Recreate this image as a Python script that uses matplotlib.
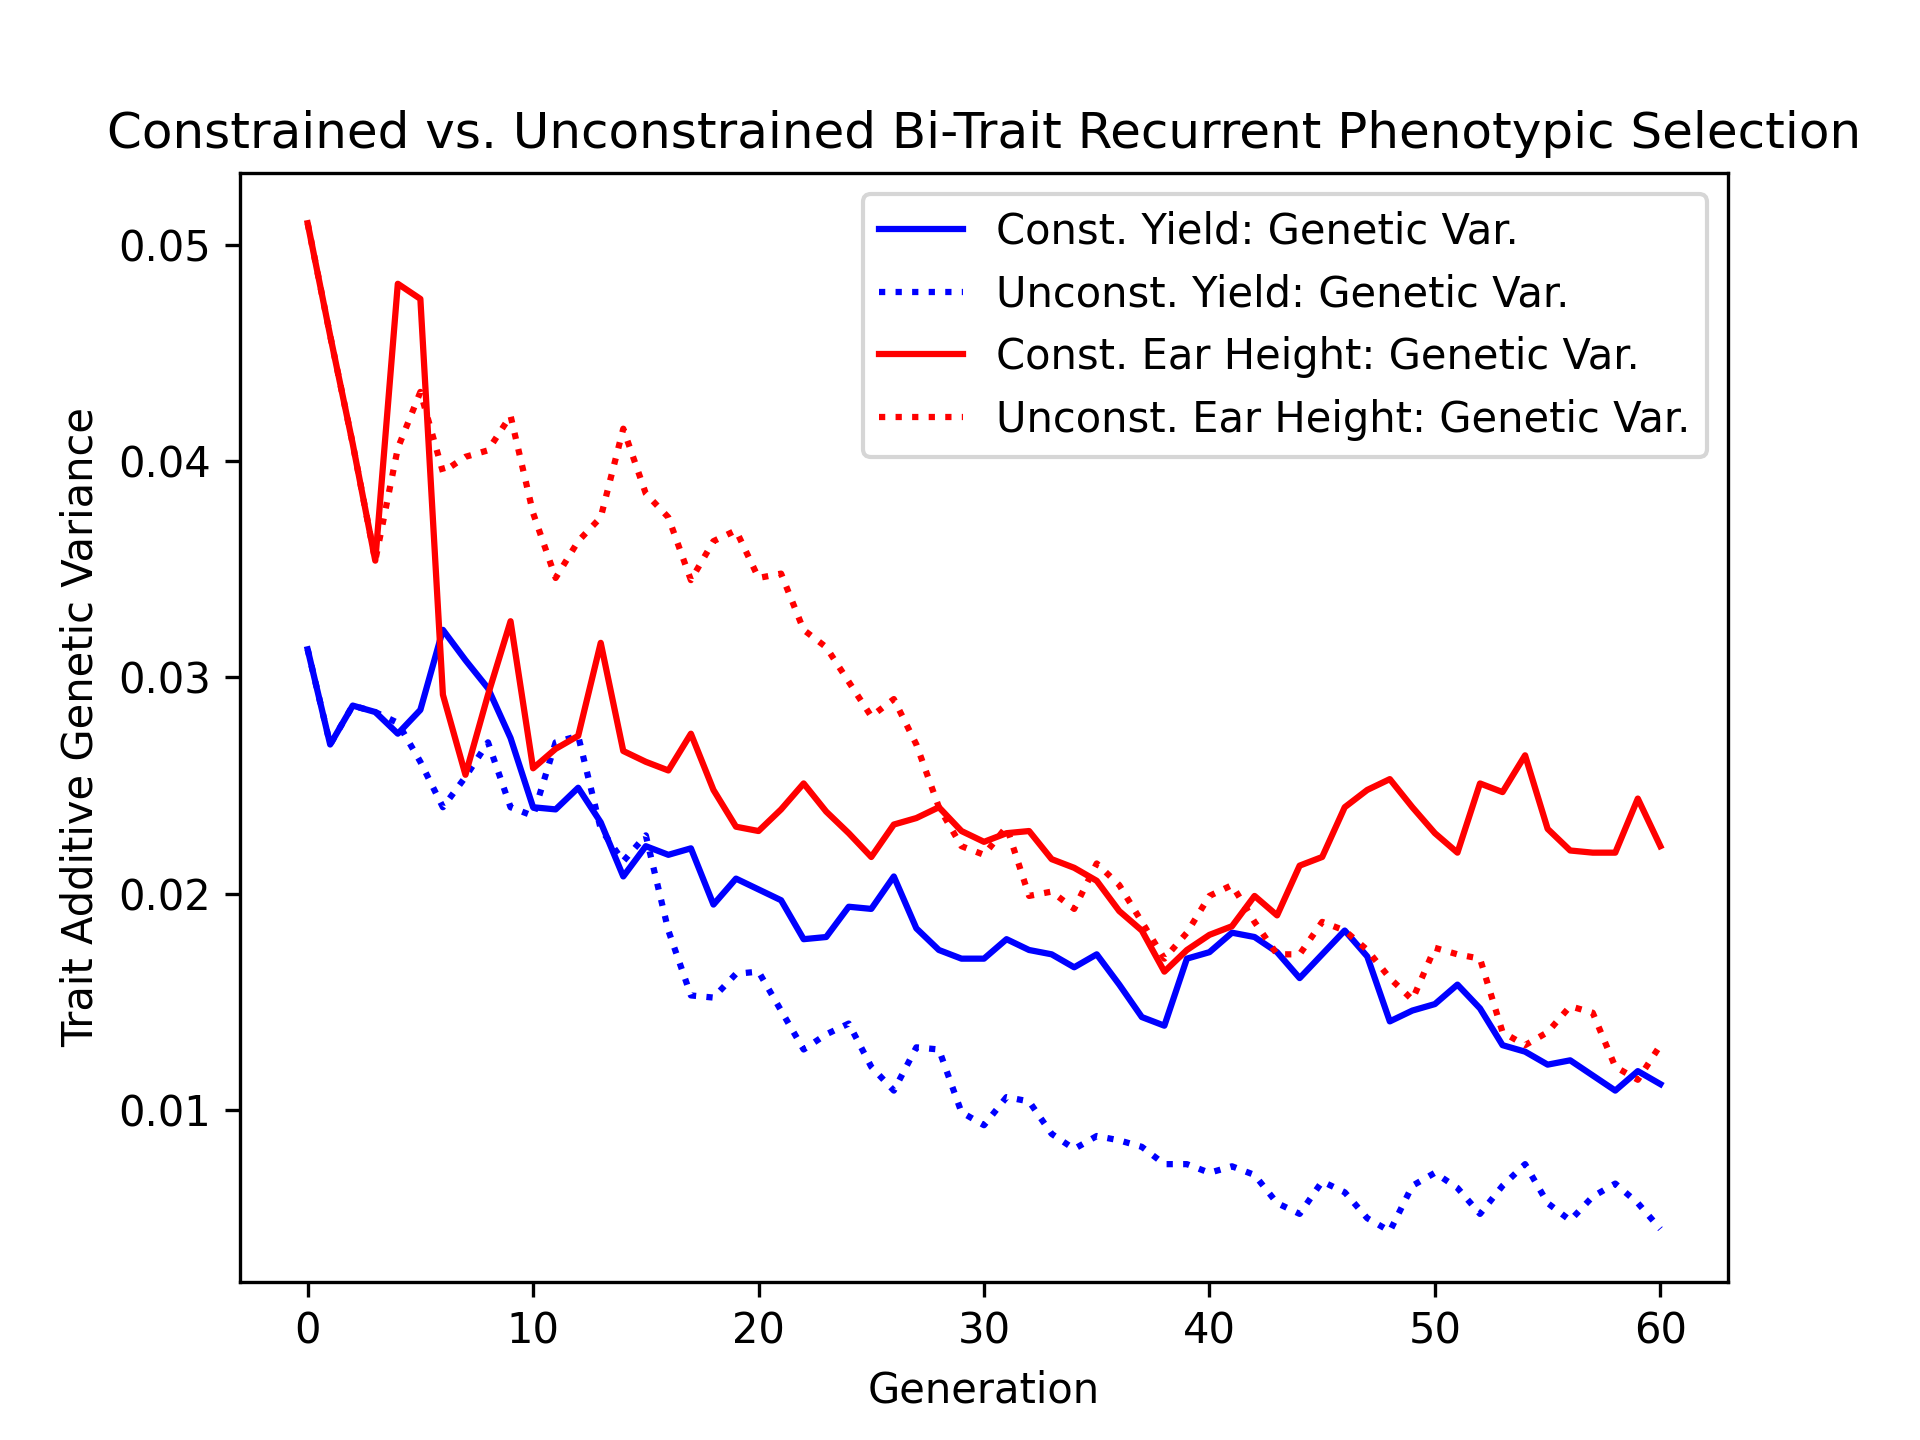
import matplotlib
matplotlib.use("Agg")
import matplotlib.pyplot as plt

# ===== dados =====
geracoes = list(range(61))

const_yield = [0.0313, 0.0269, 0.0287, 0.0284, 0.0274, 0.0285, 0.0322, 0.0308, 0.0295, 0.0272,
               0.0240, 0.0239, 0.0249, 0.0233, 0.0208, 0.0222, 0.0218, 0.0221, 0.0195, 0.0207,
               0.0202, 0.0197, 0.0179, 0.0180, 0.0194, 0.0193, 0.0208, 0.0184, 0.0174, 0.0170,
               0.0170, 0.0179, 0.0174, 0.0172, 0.0166, 0.0172, 0.0158, 0.0143, 0.0139, 0.0170,
               0.0173, 0.0182, 0.0180, 0.0173, 0.0161, 0.0172, 0.0183, 0.0171, 0.0141, 0.0146,
               0.0149, 0.0158, 0.0147, 0.0130, 0.0127, 0.0121, 0.0123, 0.0116, 0.0109, 0.0118,
               0.0112]

unconst_yield = [0.0313, 0.0269, 0.0287, 0.0284, 0.0279, 0.0261, 0.0240, 0.0254, 0.0270, 0.0240,
                 0.0236, 0.0270, 0.0273, 0.0230, 0.0215, 0.0227, 0.0183, 0.0153, 0.0152, 0.0163,
                 0.0164, 0.0146, 0.0128, 0.0135, 0.0140, 0.0120, 0.0109, 0.0129, 0.0128, 0.0099,
                 0.0093, 0.0106, 0.0104, 0.0089, 0.0082, 0.0088, 0.0086, 0.0083, 0.0075, 0.0075,
                 0.0071, 0.0074, 0.0070, 0.0057, 0.0052, 0.0067, 0.0062, 0.0050, 0.0044, 0.0065,
                 0.0071, 0.0064, 0.0052, 0.0065, 0.0075, 0.0057, 0.0049, 0.0060, 0.0066, 0.0057,
                 0.0045]

const_ear = [0.0510, 0.0458, 0.0408, 0.0354, 0.0482, 0.0475, 0.0292, 0.0255, 0.0292, 0.0326,
             0.0258, 0.0267, 0.0273, 0.0316, 0.0266, 0.0261, 0.0257, 0.0274, 0.0248, 0.0231,
             0.0229, 0.0239, 0.0251, 0.0238, 0.0228, 0.0217, 0.0232, 0.0235, 0.0240, 0.0229,
             0.0224, 0.0228, 0.0229, 0.0216, 0.0212, 0.0206, 0.0192, 0.0183, 0.0164, 0.0174,
             0.0181, 0.0185, 0.0199, 0.0190, 0.0213, 0.0217, 0.0240, 0.0248, 0.0253, 0.0240,
             0.0228, 0.0219, 0.0251, 0.0247, 0.0264, 0.0230, 0.0220, 0.0219, 0.0219, 0.0244,
             0.0222]

unconst_ear = [0.0510, 0.0458, 0.0408, 0.0354, 0.0406, 0.0432, 0.0395, 0.0402, 0.0405, 0.0421,
               0.0376, 0.0346, 0.0363, 0.0374, 0.0415, 0.0385, 0.0374, 0.0345, 0.0363, 0.0368,
               0.0346, 0.0348, 0.0322, 0.0314, 0.0298, 0.0282, 0.0290, 0.0269, 0.0240, 0.0222,
               0.0218, 0.0231, 0.0199, 0.0201, 0.0193, 0.0214, 0.0204, 0.0187, 0.0170, 0.0182,
               0.0199, 0.0204, 0.0187, 0.0172, 0.0172, 0.0187, 0.0183, 0.0174, 0.0161, 0.0151,
               0.0175, 0.0172, 0.0170, 0.0136, 0.0130, 0.0136, 0.0148, 0.0145, 0.0120, 0.0114,
               0.0130]

# ===== gráfico =====
plt.figure(figsize=(6.4, 4.8), dpi=300)
plt.plot(geracoes, const_yield, color="blue", label="Const. Yield: Genetic Var.")
plt.plot(geracoes, unconst_yield, color="blue", linestyle=":", label="Unconst. Yield: Genetic Var.")
plt.plot(geracoes, const_ear, color="red", label="Const. Ear Height: Genetic Var.")
plt.plot(geracoes, unconst_ear, color="red", linestyle=":", label="Unconst. Ear Height: Genetic Var.")
plt.title("Constrained vs. Unconstrained Bi-Trait Recurrent Phenotypic Selection")
plt.xlabel("Generation")
plt.ylabel("Trait Additive Genetic Variance")
plt.legend(loc="upper right")
plt.savefig("out.png", dpi=300)
plt.close()
